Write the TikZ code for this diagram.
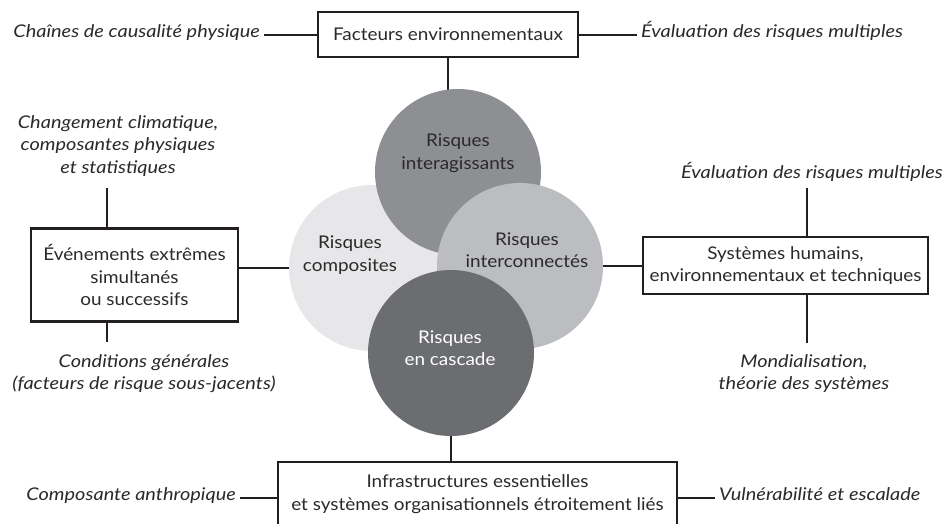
\documentclass[tikz,border=0pt]{standalone}
\usepackage{fontspec}
\setmainfont{Lato}[FakeStretch=1.08, ItalicFeatures={FakeStretch=1.14}]
\usetikzlibrary{backgrounds}
\definecolor{ln}{HTML}{231F20}
\definecolor{txt}{HTML}{2A2A2A}
\definecolor{cint}{HTML}{8E8F92}
\definecolor{ccomp}{HTML}{E7E7E9}
\definecolor{cconn}{HTML}{BCBDC0}
\definecolor{ccasc}{HTML}{6C6D70}
\newcommand{\fs}{\fontsize{17.5}{22.5}\selectfont}
\begin{document}
\begin{tikzpicture}[x=1pt,y=-1pt,
  box/.style={draw=ln, line width=2.8pt, fill=white, inner sep=0pt, align=center, text=txt, font=\fs},
  lab/.style={font=\itshape\fs, text=txt, align=center, inner ysep=0pt, inner xsep=4pt},
  conn/.style={draw=ln, line width=2.8pt},
  circ/.style={circle, inner sep=0pt, minimum size=166pt},
  ctext/.style={align=center, font=\fs, inner sep=0pt, text=txt}]
\useasboundingbox (0,0) rectangle (948,524);

% top row
\node[box, minimum width=260pt, minimum height=45pt] (fe) at (448,34.5) {Facteurs environnementaux};
\node[lab, anchor=mid east] (l1) at (264,35) {Chaînes de causalité physique};
\node[lab, anchor=mid west] (r1) at (637,35) {Évaluation des risques multiples};

% circles
\node[circ, fill=ccomp] (c2) at (372,268) {};
\node[circ, fill=cint] (c1) at (458,172) {};
\node[circ, fill=cconn] (c3) at (520,266) {};
\node[circ, fill=ccasc] (c4) at (451,353) {};
\node[ctext] (t1) at (458,153) {Risques\\interagissants};
\node[ctext] (t2) at (350,255) {Risques\\composites};
\node[ctext] (t3) at (527,250) {Risques\\interconnectés};
\node[ctext, text=white] (t4) at (450,348) {Risques\\en cascade};

% left column
\node[box, minimum width=207pt, minimum height=93pt] (ev) at (134.5,275) {Événements extrêmes\\simultanés\\ou successifs};
\node[lab] (l2) at (118,146) {Changement climatique,\\composantes physiques\\et statistiques};
\node[lab] (l3) at (144,373.5) {Conditions générales\\(facteurs de risque sous-jacents)};
\coordinate (l2e) at (107,188);
\coordinate (l3e) at (107,342);

% right column
\node[box, minimum width=285pt, minimum height=57pt] (sy) at (785.5,265.5) {Systèmes humains,\\environnementaux et techniques};
\node[lab] (r2) at (812,172) {Évaluation des risques multiples};
\node[lab] (r3) at (804,373.5) {Mondialisation,\\théorie des systèmes};
\coordinate (r2e) at (807,188);
\coordinate (r3e) at (807,343);

% bottom row
\node[box, minimum width=399pt, minimum height=100pt] (ib) at (477.5,512) {};
\node[ctext] (ibt) at (477.5,494) {Infrastructures essentielles\\et systèmes organisationnels étroitement liés};
\node[lab, anchor=mid east] (lb) at (240,498) {Composante anthropique};
\node[lab, anchor=mid west] (rb) at (715,498) {Vulnérabilité et escalade};

\begin{pgfonlayer}{background}
  \fill[white] (0,0) rectangle (948,524);
  \draw[conn] (l1.mid east) -- (l1.mid east -| fe.west);
  \draw[conn] (r1.mid west) -- (r1.mid west -| fe.east);
  \draw[conn] (fe.south) -- (fe.south |- c1.center);
  \draw[conn] (ev.east |- c2.center) -- (c2.center);
  \draw[conn] (sy.west |- c3.center) -- (c3.center);
  \draw[conn] (c4.center) -- (c4.center |- ib.north);
  \draw[conn] (l2e) -- (l2e |- ev.north);
  \draw[conn] (l3e) -- (l3e |- ev.south);
  \draw[conn] (r2e) -- (r2e |- sy.north);
  \draw[conn] (r3e) -- (r3e |- sy.south);
  \draw[conn] (lb.mid east) -- (lb.mid east -| ib.west);
  \draw[conn] (rb.mid west) -- (rb.mid west -| ib.east);
\end{pgfonlayer}
\end{tikzpicture}
\end{document}
